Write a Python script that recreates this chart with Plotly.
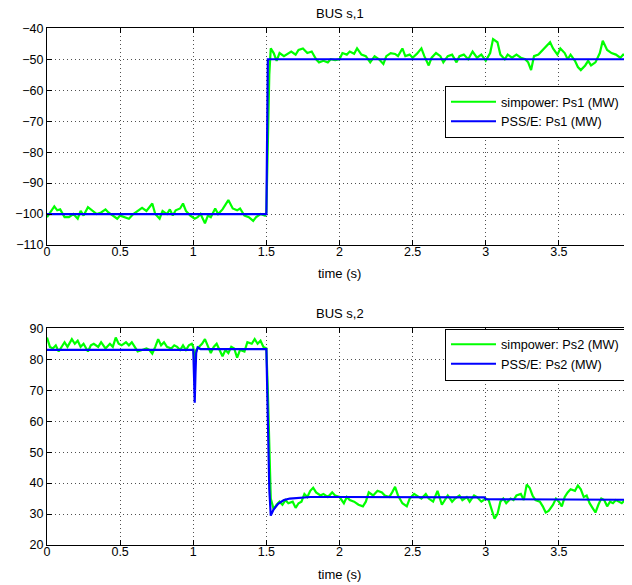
import plotly.graph_objects as go

# ---------------- data ----------------
t_sim1 = [0.00,0.02,0.05,0.07,0.09,0.12,0.15,0.18,0.21,0.23,0.25,0.28,0.31,0.34,0.37,0.40,0.42,0.45,0.48,0.50,
          0.53,0.56,0.59,0.62,0.65,0.68,0.72,0.74,0.77,0.79,0.82,0.84,0.86,0.88,0.91,0.93,0.95,0.98,1.01,1.03,
          1.05,1.08,1.10,1.12,1.15,1.17,1.20,1.24,1.27,1.30,1.32,1.35,1.38,1.41,1.43,1.46,1.49,1.50,1.51,1.52,
          1.53,1.55,1.57,1.59,1.62,1.64,1.67,1.70,1.72,1.75,1.78,1.81,1.84,1.86,1.89,1.92,1.94,1.97,2.00,2.02,
          2.05,2.07,2.10,2.12,2.15,2.18,2.21,2.24,2.27,2.30,2.32,2.35,2.38,2.40,2.43,2.45,2.48,2.50,2.53,2.56,
          2.58,2.61,2.63,2.66,2.69,2.71,2.74,2.77,2.80,2.82,2.85,2.88,2.91,2.94,2.97,3.00,3.03,3.05,3.08,3.10,
          3.13,3.15,3.18,3.21,3.24,3.27,3.29,3.31,3.33,3.36,3.39,3.42,3.44,3.46,3.49,3.51,3.54,3.56,3.58,3.61,
          3.63,3.65,3.68,3.70,3.72,3.75,3.78,3.80,3.83,3.86,3.89,3.92,3.94,3.97,4.00]
p_sim1 = [-101,-99.5,-97.5,-98.8,-98.5,-101,-101,-100,-101.5,-99,-100.5,-97.8,-99,-100,-99.5,-98.5,-99.5,-100.5,-101.5,-100.5,
          -101,-101.5,-100,-99,-98,-99,-96.6,-100,-101.5,-99,-100,-98.5,-100.5,-98.8,-98.2,-96.6,-99,-100.5,-101.5,-101,
          -100,-103,-100.5,-101,-98.2,-100,-98.5,-95.5,-98.2,-98.8,-98.2,-100.5,-101,-102.2,-101,-100,-100.5,-99.5,-80,-55,
          -46.5,-48,-50.5,-48,-49,-48.5,-47.5,-48.5,-47,-46.5,-48,-47.5,-50,-51,-50.5,-51,-50,-50.3,-50,-48,
          -48.5,-47.5,-48.2,-46.5,-48.5,-49,-51,-49,-50,-51.5,-49,-48,-48.3,-49,-46.5,-49,-48.5,-49.5,-48.2,-46.5,
          -49,-52,-49.5,-48,-49,-51,-49,-48.5,-51,-49,-48.5,-50,-47.5,-49.5,-48.5,-50.5,-48,-43.5,-44.5,-48.5,
          -50,-48.5,-49.5,-48.5,-49.5,-50,-51,-53.5,-49,-48.5,-47,-45.5,-44.5,-46.5,-48.5,-46.5,-48,-50,-48.5,-50.5,
          -52.5,-53.5,-52,-50.5,-52,-51,-48,-44,-47,-48,-48.5,-49.5,-48.5,-49,-51]

t_pss1 = [0.0, 1.5, 1.51, 4.0]
p_pss1 = [-100, -100, -50, -50]

t_sim2 = [0.00,0.02,0.04,0.06,0.08,0.10,0.12,0.14,0.17,0.19,0.21,0.23,0.25,0.28,0.30,0.32,0.35,0.37,0.40,0.43,
          0.45,0.47,0.49,0.51,0.54,0.56,0.58,0.60,0.62,0.65,0.68,0.70,0.72,0.74,0.76,0.78,0.80,0.82,0.85,0.87,
          0.89,0.91,0.93,0.95,0.97,0.99,1.00,1.01,1.02,1.04,1.06,1.08,1.10,1.12,1.14,1.16,1.18,1.20,1.22,1.24,
          1.26,1.28,1.30,1.32,1.35,1.37,1.40,1.42,1.44,1.46,1.48,1.50,1.51,1.52,1.53,1.55,1.57,1.59,1.61,1.63,
          1.65,1.68,1.70,1.72,1.74,1.76,1.78,1.80,1.82,1.84,1.87,1.89,1.92,1.95,1.97,2.00,2.03,2.05,2.07,2.10,
          2.13,2.16,2.18,2.20,2.23,2.26,2.29,2.31,2.34,2.36,2.38,2.40,2.43,2.46,2.48,2.51,2.53,2.56,2.59,2.61,
          2.64,2.67,2.70,2.72,2.74,2.77,2.79,2.82,2.84,2.87,2.89,2.92,2.94,2.97,3.00,3.02,3.04,3.06,3.08,3.10,
          3.12,3.14,3.17,3.19,3.21,3.24,3.26,3.28,3.30,3.32,3.34,3.37,3.39,3.41,3.43,3.46,3.48,3.50,3.52,3.54,
          3.56,3.58,3.61,3.63,3.65,3.67,3.69,3.71,3.73,3.75,3.77,3.79,3.81,3.83,3.85,3.87,3.89,3.91,3.93,3.96,
          3.98,4.00]
p_sim2 = [87,84,83.5,84.5,82.5,84,85.5,84,86.5,85,86,84,85,82.5,84.5,85,84,85.5,83.5,85,
          84,87,85,84.5,85.5,84.5,85.5,84,82.5,83,83.5,83,81.8,84,86.5,84.5,85.5,84,83.5,84.5,
          84,83,84.5,83,84.5,85,84,79,83,84,85,86.5,84,82,84,85,83,81,83,82,
          84,83.5,80.5,83,82.5,85.5,85,86.5,85,86,84,83.5,70,50,35,31.5,33,34,33,34.5,
          33.5,34,32,33.5,34,36.5,35.5,37.5,38.5,37,36,36.5,35.5,37,36,35.5,33.5,35.5,34.5,34,
          33,32.5,34,37,36,37.5,37,36,35.5,37,38.8,36,33.5,32.5,35,36.5,36,35,36.5,35,
          34,37.5,33,34.5,36,34,35,36,34.5,35.5,34,36,35.5,34,35,34.5,31.5,28.5,30,34,
          35,33.5,35,34.5,36,36.5,34.5,39.5,38.5,36,34.5,34,32.5,30.5,31,33,35,34,32.5,35.5,
          37,38,37.5,39.2,38,35.5,36,33.5,32,30.5,33,35,34.5,32.5,34,33.5,34.5,34,33.5,35,
          34,36]

t_pss2 = [0.0, 1.0, 1.005, 1.01, 1.015, 1.02, 1.03, 1.05, 1.5, 1.51, 1.52, 1.53, 1.55, 1.58, 1.62, 1.66, 1.72, 1.8, 2.0, 2.99, 3.0, 4.0]
p_pss2 = [83, 83, 75, 66, 75, 82, 83.8, 83.3, 83.3, 60, 38, 29.5, 31.5, 33.3, 34.5, 35.0, 35.3, 35.5, 35.5, 35.4, 34.8, 34.6]

x_ticks = [0, 0.5, 1, 1.5, 2, 2.5, 3, 3.5, 4]
x_tick_text = ["0", "0.5", "1", "1.5", "2", "2.5", "3", "3.5", "4"]
y1_ticks = [-110, -100, -90, -80, -70, -60, -50, -40]
y2_ticks = [20, 30, 40, 50, 60, 70, 80, 90]

titles = ["BUS s,1", "BUS s,2"]
xlabel = "time (s)"
names1 = ["simpower: Ps1 (MW)", "PSS/E: Ps1 (MW)"]
names2 = ["simpower: Ps2 (MW)", "PSS/E: Ps2 (MW)"]

# ---------------- figure ----------------
OFF = 8                     # default page body margin
W, H = 632 - OFF, 585 - OFF
FONT = "Liberation Sans, Arial, Helvetica, sans-serif"
GREEN = "#00FF00"
BLUE = "#0000FF"

fig = go.Figure()
fig.add_trace(go.Scatter(x=t_sim1, y=p_sim1, mode="lines", name=names1[0],
                         line=dict(color=GREEN, width=2.2), xaxis="x", yaxis="y", legend="legend"))
fig.add_trace(go.Scatter(x=t_pss1, y=p_pss1, mode="lines", name=names1[1],
                         line=dict(color=BLUE, width=2.2), xaxis="x", yaxis="y", legend="legend"))
fig.add_trace(go.Scatter(x=t_sim2, y=p_sim2, mode="lines", name=names2[0],
                         line=dict(color=GREEN, width=2.2), xaxis="x2", yaxis="y2", legend="legend2"))
fig.add_trace(go.Scatter(x=t_pss2, y=p_pss2, mode="lines", name=names2[1],
                         line=dict(color=BLUE, width=2.2), xaxis="x2", yaxis="y2", legend="legend2"))

LEFT = 47 - OFF


def py(p):
    """screen pixel row -> paper y"""
    return 1 - (p - OFF) / H


def px(p):
    """screen pixel column -> paper x"""
    return (p - OFF - LEFT) / (W - LEFT)


axis_common = dict(showline=True, linecolor="black", linewidth=1, mirror="ticks",
                   ticks="inside", ticklen=5, tickcolor="black", automargin=False,
                   ticklabeloverflow="allow",
                   showgrid=True, gridcolor="#505050", griddash="1px,3px", gridwidth=1,
                   zeroline=False, tickfont=dict(family=FONT, size=12.5, color="black"))

xaxis_extra = dict(ticklabelstandoff=-5)

fig.update_layout(
    width=W, height=H,
    margin=dict(l=LEFT, r=0, t=0, b=0, autoexpand=False),
    paper_bgcolor="white", plot_bgcolor="white",
    font=dict(family=FONT, size=13, color="black"),
    xaxis=dict(domain=[0, 1], range=[0, 4], anchor="y", tickvals=x_ticks, ticktext=x_tick_text,
               **axis_common, **xaxis_extra),
    yaxis=dict(domain=[py(245), py(28.3)], range=[-110, -40], anchor="x", tickvals=y1_ticks, **axis_common),
    xaxis2=dict(domain=[0, 1], range=[0, 4], anchor="y2", tickvals=x_ticks, ticktext=x_tick_text,
                **axis_common, **xaxis_extra),
    yaxis2=dict(domain=[py(545), py(328.3)], range=[20, 90], anchor="x2", tickvals=y2_ticks, **axis_common),
    legend=dict(x=px(445), y=py(86), xanchor="left", yanchor="top", itemwidth=45,
                bgcolor="white", bordercolor="black", borderwidth=1, tracegroupgap=0,
                font=dict(family=FONT, size=12.7, color="black")),
    legend2=dict(x=px(445), y=py(328.5), xanchor="left", yanchor="top", itemwidth=45,
                 bgcolor="white", bordercolor="black", borderwidth=1, tracegroupgap=0,
                 font=dict(family=FONT, size=12.7, color="black")),
    showlegend=True,
)

tfont = dict(family=FONT, size=13, color="black")
annos = [
    dict(text=titles[0], x=0.5, y=py(13.5), yanchor="middle"),
    dict(text=xlabel, x=0.5, y=py(273), yanchor="middle"),
    dict(text=titles[1], x=0.5, y=py(313.5), yanchor="middle"),
    dict(text=xlabel, x=0.5, y=py(574), yanchor="middle"),
]
for a in annos:
    a.update(xref="paper", yref="paper", showarrow=False, xanchor="center", font=tfont)
fig.update_layout(annotations=annos)

fig.write_html("out.html")
